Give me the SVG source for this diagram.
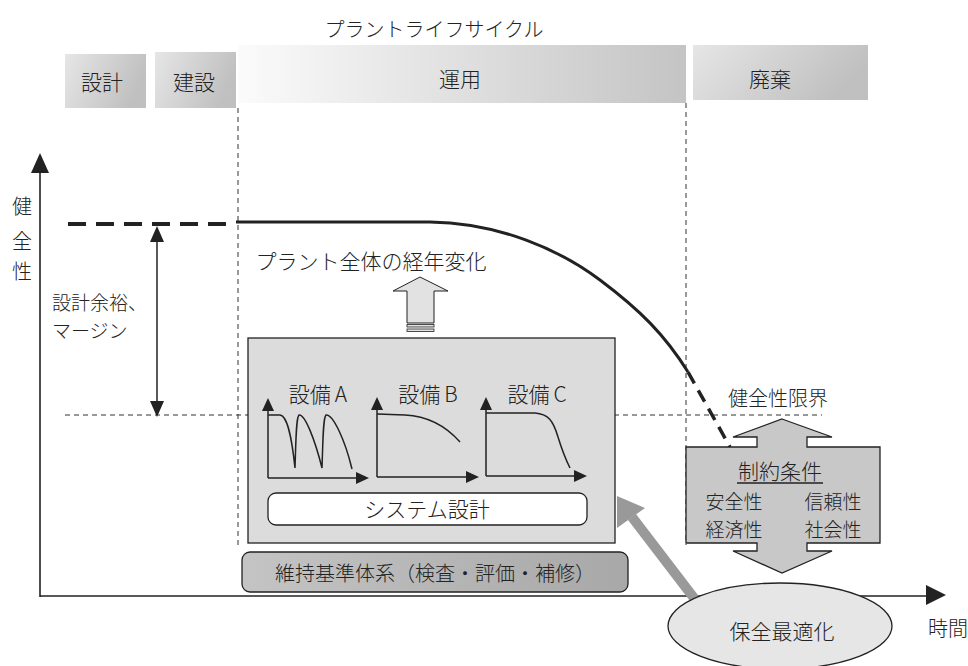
<svg xmlns="http://www.w3.org/2000/svg" width="968" height="666" viewBox="0 0 968 666">
<defs>
<linearGradient id="gBar" x1="0" y1="0" x2="1" y2="0.3"><stop offset="0" stop-color="#e6e6e6"/><stop offset="1" stop-color="#c0c0c0"/></linearGradient>
<linearGradient id="gOp" x1="0" y1="0" x2="1" y2="0"><stop offset="0" stop-color="#fbfbfb"/><stop offset="1" stop-color="#c4c4c4"/></linearGradient>
<linearGradient id="gMnt" x1="0" y1="0" x2="1" y2="0"><stop offset="0" stop-color="#c4c4c4"/><stop offset="1" stop-color="#a8a8a8"/></linearGradient>
<style>
text{font-family:"Noto Sans CJK JP","Noto Sans",sans-serif;font-weight:300;fill:#222;dominant-baseline:central;text-anchor:middle}
.t19{font-size:19px}
.t20{font-size:20px}
.t21{font-size:21px}
.ax{stroke:#222;stroke-width:1.6;fill:none}
.hd{fill:#222}
.dsh{stroke:#333;stroke-width:1;stroke-dasharray:5 4;fill:none}
.mini{stroke:#222;stroke-width:1.5;fill:none}
.box{stroke:#222;stroke-width:1.3}
</style>
</defs>
<rect width="968" height="666" fill="#fff"/>

<g id="title"><text class="t20" x="434" y="28">プラントライフサイクル</text></g>

<g id="phase-design"><rect x="65" y="54" width="81" height="54" fill="url(#gBar)"/><text class="t21" x="102" y="81">設計</text></g>
<g id="phase-construction"><rect x="155" y="52" width="81" height="56" fill="url(#gBar)"/><text class="t21" x="194" y="81">建設</text></g>
<g id="phase-operation"><rect x="238" y="45" width="448" height="58" fill="url(#gOp)"/><text class="t21" x="460" y="78">運用</text></g>
<g id="phase-decommission"><rect x="693" y="45" width="175" height="55" fill="url(#gBar)"/><text class="t21" x="770" y="78">廃棄</text></g>

<g id="guides">
<line class="dsh" x1="238" y1="108" x2="238" y2="545"/>
<line class="dsh" x1="686" y1="103" x2="686" y2="545"/>
<line class="dsh" x1="65" y1="415" x2="822" y2="415"/>
</g>

<g id="axes">
<line class="ax" x1="40" y1="170" x2="40" y2="597"/>
<polygon class="hd" points="40,153 31,173 49,173"/>
<line class="ax" x1="40" y1="596" x2="928" y2="596"/>
<polygon class="hd" points="946,595 926,585 926,605"/>
<text class="t20" x="22" y="205">健</text>
<text class="t20" x="22" y="240">全</text>
<text class="t20" x="22" y="270">性</text>
<text class="t20" x="948" y="627">時間</text>
</g>

<g id="connectors">
<path d="M68,224 L236,224" stroke="#222" stroke-width="4" stroke-dasharray="18 10" fill="none"/>
<path d="M236,222 L430,222 C500,223 560,250 600,280 C640,310 665,335 688,372" stroke="#222" stroke-width="3" fill="none"/>
<path d="M688,372 L730,447" stroke="#222" stroke-width="3.5" stroke-dasharray="13 8" fill="none"/>
<line x1="157" y1="240" x2="157" y2="403" stroke="#222" stroke-width="1.5"/>
<polygon class="hd" points="157,226 150,242 164,242"/>
<polygon class="hd" points="157,417 150,401 164,401"/>
<line x1="697" y1="602" x2="632" y2="517" stroke="#999" stroke-width="10"/>
<polygon points="617,496 617,528 645,508" fill="#999"/>
</g>

<g id="margin-label">
<text class="t19" x="52" y="301" style="text-anchor:start">設計余裕、</text>
<text class="t19" x="52" y="329" style="text-anchor:start">マージン</text>
</g>

<g id="plant-aging">
<text class="t21" x="371" y="260">プラント全体の経年変化</text>
<polygon points="420,277 448,291 434,291 434,323 407,323 407,291 393,291" fill="#e2e2e2" stroke="#222" stroke-width="1"/>
<rect x="407" y="324.5" width="27" height="2.5" fill="#e2e2e2" stroke="#222" stroke-width="0.8"/>
<rect x="407" y="329" width="27" height="2.5" fill="#e2e2e2" stroke="#222" stroke-width="0.8"/>
</g>

<g id="system-box">
<rect class="box" x="248" y="338" width="367" height="205" fill="#dcdcdc"/>
<text class="t21" x="318" y="393">設備<tspan dx="4">A</tspan></text>
<text class="t21" x="428" y="393">設備<tspan dx="4">B</tspan></text>
<text class="t21" x="537" y="393">設備<tspan dx="4">C</tspan></text>
<g id="chart-a">
<line class="mini" x1="268" y1="409" x2="268" y2="478"/>
<line class="mini" x1="268" y1="478" x2="357" y2="478"/>
<polygon class="hd" points="268,398 262,411 274,411"/>
<polygon class="hd" points="369,478 356,472 356,484"/>
<path class="mini" d="M268,415 L280,415 C288,416 292,440 295,468 C296,440 296,418 299,415 C305,414 315,440 322,468 C323,440 323,418 326,415 C333,414 345,440 352,469"/>
</g>
<g id="chart-b">
<line class="mini" x1="377" y1="408" x2="377" y2="477"/>
<line class="mini" x1="377" y1="477" x2="467" y2="477"/>
<polygon class="hd" points="377,397 371,410 383,410"/>
<polygon class="hd" points="479,477 466,471 466,483"/>
<path class="mini" d="M377,414 L405,415 C425,416 445,425 460,442"/>
</g>
<g id="chart-c">
<line class="mini" x1="486" y1="408" x2="486" y2="476"/>
<line class="mini" x1="486" y1="476" x2="575" y2="476"/>
<polygon class="hd" points="486,397 480,410 492,410"/>
<polygon class="hd" points="587,476 574,470 574,482"/>
<path class="mini" d="M486,413 L535,413 C548,414 553,420 558,437 C562,450 566,460 570,468"/>
</g>
<g id="system-design">
<rect class="box" x="268" y="493" width="319" height="32" rx="8" fill="#fff"/>
<text class="t21" x="427" y="508">システム設計</text>
</g>
</g>

<g id="maintenance-standard">
<rect class="box" x="242" y="552" width="386" height="40" rx="8" fill="url(#gMnt)"/>
<text class="t20" x="435" y="572">維持基準体系（検査・評価・補修）</text>
</g>

<g id="limit-label"><text class="t20" x="778" y="397">健全性限界</text></g>

<g id="constraints">
<polygon class="box" points="782,419 832,437 807,437 807,447 880,447 880,543 807,543 807,551 832,551 782,573 733,551 757,551 757,543 686,543 686,447 757,447 757,437 733,437" fill="#c8c8c8"/>
<text class="t21" x="780" y="470">制約条件</text>
<line x1="737" y1="483" x2="823" y2="483" stroke="#222" stroke-width="1.3"/>
<text class="t19" x="734" y="500">安全性</text>
<text class="t19" x="833" y="500">信頼性</text>
<text class="t19" x="734" y="528">経済性</text>
<text class="t19" x="833" y="528">社会性</text>
</g>

<g id="optimization">
<ellipse class="box" cx="780" cy="626" rx="112" ry="43" fill="#e6e6e6"/>
<text class="t21" x="782" y="630">保全最適化</text>
</g>
</svg>
